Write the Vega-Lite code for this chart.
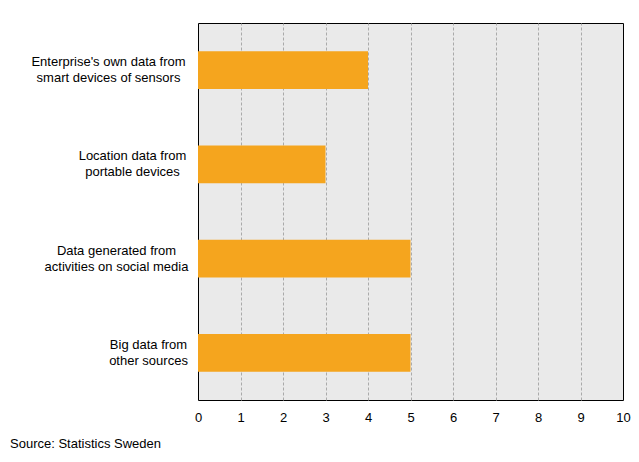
{
  "$schema": "https://vega.github.io/schema/vega-lite/v6.json",
  "width": 425,
  "height": 377,
  "autosize": {"type": "none"},
  "padding": {"left": 198, "top": 23, "right": 16, "bottom": 62},
  "background": "white",
  "config": {
    "font": "Liberation Sans",
    "view": {"fill": "#eaeaea", "stroke": "black", "strokeWidth": 1}
  },
  "title": {
    "text": "Source:  Statistics Sweden",
    "orient": "bottom",
    "anchor": "start",
    "frame": "group",
    "dx": -188,
    "offset": 14,
    "fontSize": 13,
    "fontWeight": "normal",
    "color": "black",
    "font": "Liberation Sans"
  },
  "data": {
    "values": [
      {"category": "Enterprise's own data from|smart devices of sensors", "value": 4},
      {"category": "Location data from|portable devices", "value": 3},
      {"category": "Data generated from|activities on social media", "value": 5},
      {"category": "Big data from|other sources", "value": 5}
    ]
  },
  "mark": {"type": "bar", "color": "#F5A51E"},
  "encoding": {
    "y": {
      "field": "category",
      "type": "nominal",
      "sort": null,
      "scale": {"paddingInner": 0.6, "paddingOuter": 0.3},
      "axis": {
        "title": null,
        "domain": false,
        "ticks": false,
        "labelExpr": "split(datum.value, '|')",
        "labelFontSize": 13,
        "labelColor": "black",
        "labelLineHeight": 16,
        "labelBaseline": "middle",
        "labelAlign": "center",
        "labelOffset": -8,
        "labelPadding": {
          "condition": [
            {"test": "datum.value == 'Enterprise\\'s own data from|smart devices of sensors'", "value": 90},
            {"test": "datum.value == 'Location data from|portable devices'", "value": 66},
            {"test": "datum.value == 'Data generated from|activities on social media'", "value": 82}
          ],
          "value": 50
        }
      }
    },
    "x": {
      "field": "value",
      "type": "quantitative",
      "scale": {"domain": [0, 10], "nice": false},
      "axis": {
        "title": null,
        "values": [0,1,2,3,4,5,6,7,8,9,10],
        "domain": false,
        "ticks": false,
        "labelFontSize": 13,
        "labelColor": "black",
        "labelPadding": 11,
        "labelFlush": false,
        "grid": true,
        "gridColor": "#aaaaaa",
        "gridDash": [3, 2],
        "gridWidth": 1,
        "gridOpacity": {
          "condition": {"test": "datum.value == 0 || datum.value == 10", "value": 0},
          "value": 1
        }
      }
    }
  }
}
